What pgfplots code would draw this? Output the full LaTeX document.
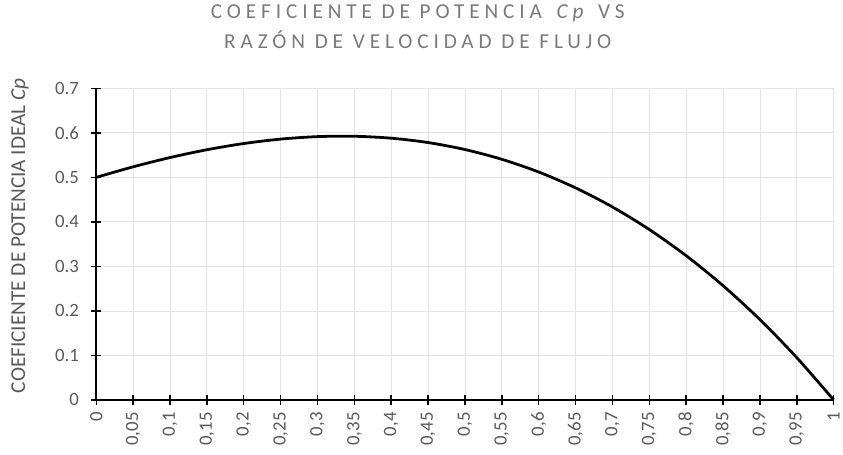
\documentclass[border=0pt]{standalone}
\usepackage{fontspec}
\setmainfont{Carlito}
\usepackage{pgfplots}
\pgfplotsset{compat=1.18}
\definecolor{txtgray}{HTML}{595959}
\definecolor{ttlgray}{HTML}{7A7A7A}
\definecolor{grd}{HTML}{E3E3E3}
\begin{document}
\begin{tikzpicture}[x=1bp,y=1bp]
\begin{axis}[
  scale only axis,
  width=743bp, height=314bp,
  xmin=0, xmax=1, ymin=0, ymax=0.7,
  axis lines*=left,
  axis line style={black, line width=2bp},
  xtick={0,0.05,0.1,0.15,0.2,0.25,0.3,0.35,0.4,0.45,0.5,0.55,0.6,0.65,0.7,0.75,0.8,0.85,0.9,0.95,1},
  xticklabels={0,{0,05},{0,1},{0,15},{0,2},{0,25},{0,3},{0,35},{0,4},{0,45},{0,5},{0,55},{0,6},{0,65},{0,7},{0,75},{0,8},{0,85},{0,9},{0,95},1},
  ytick={0,0.1,0.2,0.3,0.4,0.5,0.6,0.7},
  yticklabels={0,0.1,0.2,0.3,0.4,0.5,0.6,0.7},
  tick align=center,
  major tick length=10bp,
  tick style={black, line width=1.5bp},
  grid=major,
  major grid style={grd, line width=0.8bp},
  x tick label style={rotate=90, anchor=east, font=\fontsize{19}{19}\selectfont, text=txtgray},
  y tick label style={font=\fontsize{19}{19}\selectfont, text=txtgray},
  xticklabel shift=4bp,
  yticklabel shift=9bp,
  ylabel={COEFICIENTE DE POTENCIA IDEAL \textit{Cp}},
  ylabel style={font=\fontsize{21.5}{22}\selectfont, text=txtgray, at={(axis description cs:-0.1036,0.527)}, anchor=center},
  title={\addfontfeatures{LetterSpace=23}COEFICIENTE DE POTENCIA\/ \textit{Cp}\/ VS\\\addfontfeatures{LetterSpace=23}RAZÓN DE VELOCIDAD DE FLUJO},
  title style={font=\fontsize{21.5}{30}\selectfont, text=ttlgray, align=center, at={(0.436,1)}, anchor=south, inner sep=0pt, yshift=34bp},
  clip=false,
]
\addplot[black, line width=2.8bp, smooth] coordinates {
(0,0.5) (0.05,0.52369) (0.1,0.5445) (0.15,0.56206) (0.2,0.576) (0.25,0.58594)
(0.3,0.5915) (0.35,0.59231) (0.4,0.588) (0.45,0.57819) (0.5,0.5625)
(0.55,0.54056) (0.6,0.512) (0.65,0.47644) (0.7,0.4335) (0.75,0.38281)
(0.8,0.324) (0.85,0.25669) (0.9,0.1805) (0.95,0.09506) (1,0)
};
\end{axis}
\path (current axis.south west) ++(-97bp,-55bp) coordinate (bbA);
\path (current axis.north east) ++(3bp,89bp) coordinate (bbB);
\path (bbA) rectangle (bbB);
\end{tikzpicture}
\end{document}
